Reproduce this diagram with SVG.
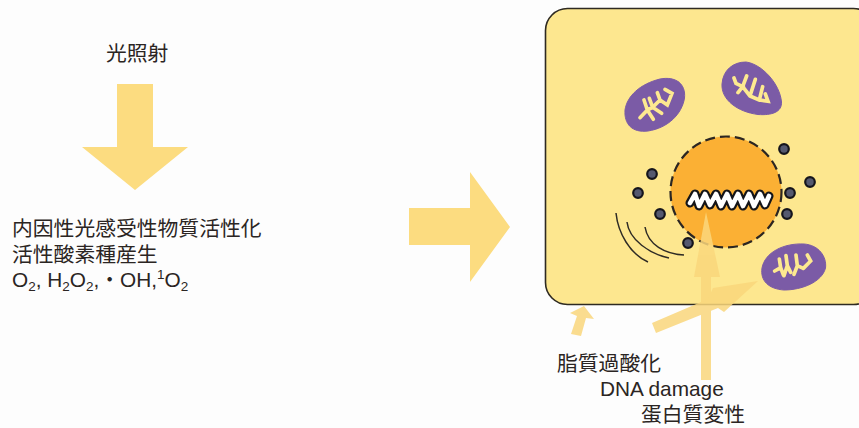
<svg xmlns="http://www.w3.org/2000/svg" width="859" height="428" viewBox="0 0 859 428">
  <style>
    .t { font-family: "Liberation Sans", "Noto Sans CJK JP", sans-serif; font-size: 20.8px; fill: #2b2523; }
    .s { font-size: 13.5px; }
    .arrow { fill: #fcdc80; }
    .beam { fill: #fad77c; }
    .mito { fill: #7b5ba6; stroke: #7b5ba6; stroke-width: 1; }
    .crista { fill: none; stroke: #fde990; stroke-width: 11; stroke-linejoin: miter; stroke-linecap: round; }
    .granule { fill: #55596f; stroke: #15151c; stroke-width: 2.200; }
    .er { fill: none; stroke: #2e2b25; stroke-width: 1.500; }
  </style>
  <rect width="859" height="428" fill="#fdfdfd"/>

  <g id="light-arrow"><path class="arrow" d="M117 84H153V147H188L135 190L82 147H117Z"/></g>
  <g id="result-arrow"><path class="arrow" d="M409 208H470V172L510 227L470 282V245H409Z"/></g>

  <g id="cell">
    <rect x="545.500" y="8.500" width="330" height="296" rx="22" fill="#fde78f" stroke="#2e2a22" stroke-width="1.600"/>
    <g id="er">
      <path class="er" d="M616 213C618 233 630 254 648 262"/>
      <path class="er" d="M627 222C629 240 650 254 669 258"/>
      <path class="er" d="M645 227C648 245 665 254 684 255"/>
    </g>
  </g>

  <g id="mitochondrion-1">
    <path class="mito" d="M625 110C627 96 640 84 660 79C676 76 686 84 684.500 98C682 114 668 128 648 131C632 133 624 124 625 110Z"/>
    <g transform="translate(610 50) scale(0.3333)">
      <path class="crista" d="M90 203L112 180L102 150M112 180L130 208M128 172L118 145M112 180L128 172L155 190M128 172L150 150L142 128M150 150L172 165L186 130L165 118"/>
    </g>
  </g>
  <g id="mitochondrion-2">
    <path class="mito" d="M722 84C723 70 733 62 746 62C762 64 780 84 781.500 102C782 112 772 115.500 758 114.500C738 112 721 100 722 84Z"/>
    <g transform="translate(610 50) scale(0.3333)">
      <path class="crista" d="M372 84L378 100L398 110L384 128M398 110L410 78M398 110L420 138M420 138L436 88M420 138L448 150M448 150L458 110M448 150L474 154L466 132"/>
    </g>
  </g>
  <g id="mitochondrion-3">
    <path class="mito" d="M762 268C765 252 784 243 804 244C819 245 827 257 825.500 268C822 282 802 290 784 290C769 289 760 281 762 268Z"/>
    <g transform="translate(740 235) scale(0.3333)">
      <path class="crista" d="M104 108L122 98L118 72M122 98L130 120M132 122L142 92L138 62M142 92L152 112M162 118L172 92L168 60M172 92L190 100M190 100L212 78L202 60"/>
    </g>
  </g>

  <g id="nucleus">
    <circle cx="726" cy="192" r="55.500" fill="#fbb034" stroke="#2b2622" stroke-width="2.200" stroke-dasharray="10 5"/>
    <path d="M690 203L695 194L699 206L705 194L710 205L716 194L721 206L727 194L732 206L738 194L743 206L749 194L754 206L760 194L765 205L769 196" fill="none" stroke="#141418" stroke-width="9" stroke-linejoin="round" stroke-linecap="round"/>
    <path d="M690 203L695 194L699 206L705 194L710 205L716 194L721 206L727 194L732 206L738 194L743 206L749 194L754 206L760 194L765 205L769 196" fill="none" stroke="#fff" stroke-width="4.600" stroke-linejoin="round" stroke-linecap="round"/>
  </g>

  <g id="granules">
    <circle class="granule" cx="652" cy="174" r="4.800"/>
    <circle class="granule" cx="638" cy="193" r="4.800"/>
    <circle class="granule" cx="660" cy="214" r="4.800"/>
    <circle class="granule" cx="688" cy="243" r="4.800"/>
    <circle class="granule" cx="784" cy="149" r="4.800"/>
    <circle class="granule" cx="810" cy="182" r="4.800"/>
    <circle class="granule" cx="790" cy="193" r="4.800"/>
    <circle class="granule" cx="787" cy="214" r="4.800"/>
  </g>

  <g id="connectors" opacity="0.85">
    <path class="beam" d="M701 380V277H694L706 212L720 277H711V380Z"/>
    <path class="beam" d="M652 323L708 299L713 288L758 281L724 312L718 308L656 333Z"/>
    <path class="beam" d="M571 334L577 316L570 313L584 306L594 319L586 318L581 336Z"/>
  </g>

  <g id="labels">
    <text class="t" x="106" y="61">光照射</text>
    <text class="t" x="12" y="236">内因性光感受性物質活性化</text>
    <text class="t" x="12" y="262">活性酸素種産生</text>
    <text class="t" x="12" y="287">O<tspan class="s" dy="4">2</tspan><tspan dy="-4">, H</tspan><tspan class="s" dy="4">2</tspan><tspan dy="-4">O</tspan><tspan class="s" dy="4">2</tspan><tspan dy="-4">,・OH,</tspan><tspan class="s" dy="-8">1</tspan><tspan dy="8">O</tspan><tspan class="s" dy="4">2</tspan></text>
    <text class="t" x="557" y="371">脂質過酸化</text>
    <text class="t" x="600" y="396">DNA damage</text>
    <text class="t" x="641" y="422">蛋白質変性</text>
  </g>
</svg>
